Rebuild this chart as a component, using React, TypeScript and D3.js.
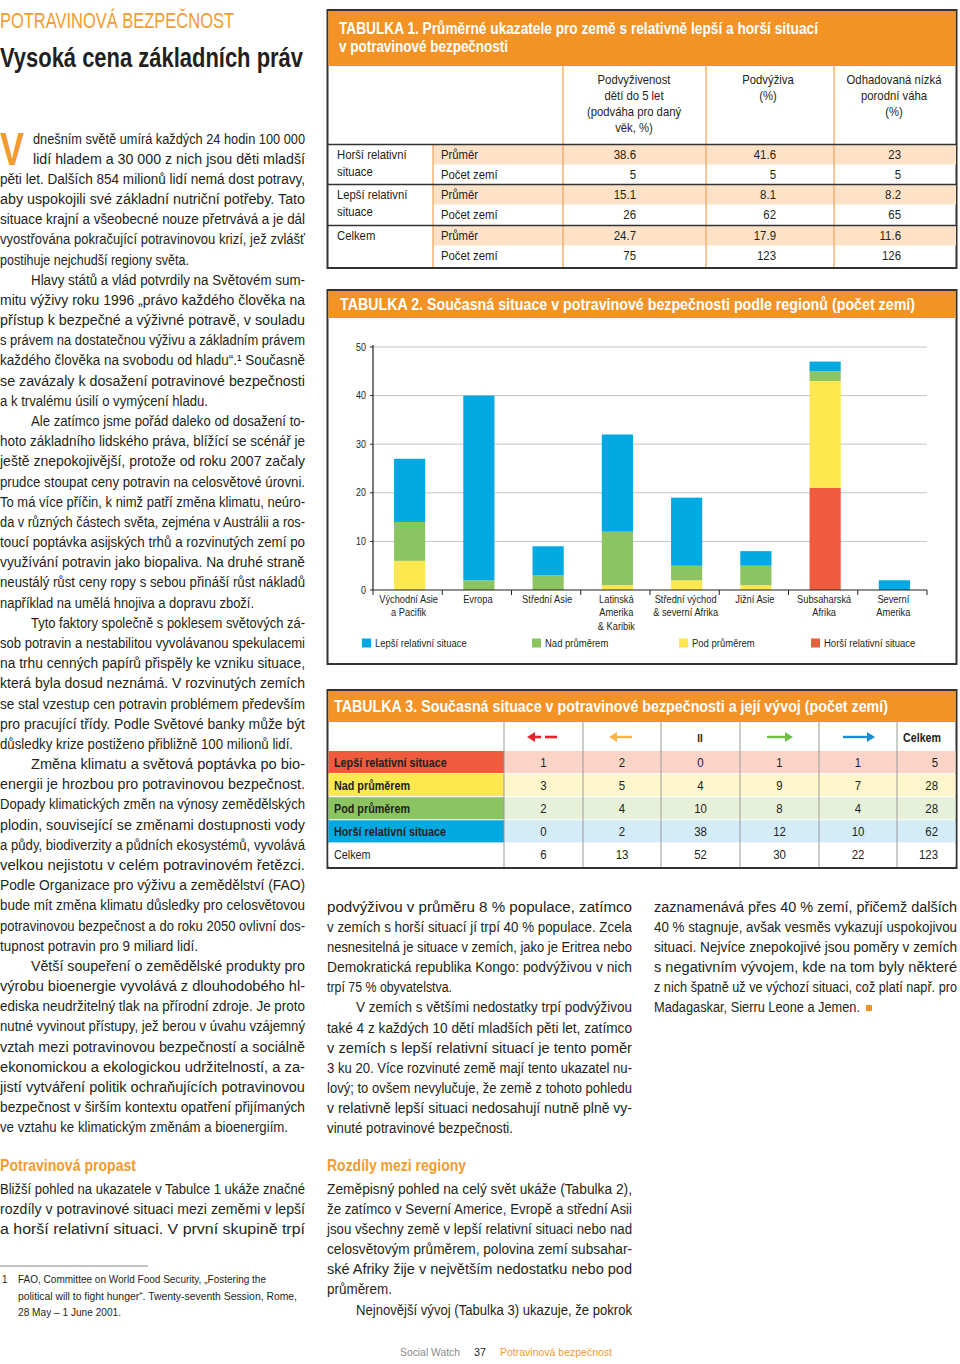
import React from "react";
import * as d3 from "d3";

// ---------- Chart data (Tabulka 2) ----------
const categories = [
  "Východní Asie|a Pacifik",
  "Evropa",
  "Střední Asie",
  "Latinská|Amerika|& Karibik",
  "Střední východ|& severní Afrika",
  "Jižní Asie",
  "Subsaharská|Afrika",
  "Severní|Amerika",
];
const worseSituation = [0, 0, 0, 0, 0, 0, 21, 0];
const belowAverage = [6, 0, 0, 1, 2, 1, 22, 0];
const aboveAverage = [8, 2, 3, 11, 3, 4, 2, 0];
const betterSituation = [13, 38, 6, 20, 14, 3, 2, 2];
const yTicks = [0, 10, 20, 30, 40, 50];
const legendLabels = ["Lepší relativní situace", "Nad průměrem", "Pod průměrem", "Horší relativní situace"];

// ---------- Tabulka 1 ----------
const t1Columns = [
  ["Podvyživenost", "dětí do 5 let", "(podváha pro daný", "věk, %)"],
  ["Podvýživa", "(%)"],
  ["Odhadovaná nízká", "porodní váha", "(%)"],
];
const t1Groups = [["Horší relativní", "situace"], ["Lepší relativní", "situace"], ["Celkem"]];
const t1Avg = [["38.6", "41.6", "23"], ["15.1", "8.1", "8.2"], ["24.7", "17.9", "11.6"]];
const t1Count = [["5", "5", "5"], ["26", "62", "65"], ["75", "123", "126"]];

// ---------- Tabulka 3 ----------
const t3Rows = ["Lepší relativní situace", "Nad průměrem", "Pod průměrem", "Horší relativní situace", "Celkem"];
const t3Values = [
  [1, 2, 0, 1, 1, 5],
  [3, 5, 4, 9, 7, 28],
  [2, 4, 10, 8, 4, 28],
  [0, 2, 38, 12, 10, 62],
  [6, 13, 52, 30, 22, 123],
];

// ---------- Body text ----------
const leftParas = [
  { indent: 0, end: 189, lines: [
    "dnešním světě umírá každých 24 hodin 100 000",
    "lidí hladem a 30 000 z nich jsou děti mladší",
    "pěti let. Dalších 854 milionů lidí nemá dost potravy,",
    "aby uspokojili své základní nutriční potřeby. Tato",
    "situace krajní a všeobecné nouze přetrvává a je dál",
    "vyostřována pokračující potravinovou krizí, jež zvlášť",
    "postihuje nejchudší regiony světa.",
  ]},
  { indent: 31, end: 208, lines: [
    "Hlavy států a vlád potvrdily na Světovém sum-",
    "mitu výživy roku 1996 „právo každého člověka na",
    "přístup k bezpečné a výživné potravě, v souladu",
    "s právem na dostatečnou výživu a základním právem",
    "každého člověka na svobodu od hladu“.¹ Současně",
    "se zavázaly k dosažení potravinové bezpečnosti",
    "a k trvalému úsilí o vymýcení hladu.",
  ]},
  { indent: 31, end: 254, lines: [
    "Ale zatímco jsme pořád daleko od dosažení to-",
    "hoto základního lidského práva, blížící se scénář je",
    "ještě znepokojivější, protože od roku 2007 začaly",
    "prudce stoupat ceny potravin na celosvětové úrovni.",
    "To má více příčin, k nimž patří změna klimatu, neúro-",
    "da v různých částech světa, zejména v Austrálii a ros-",
    "toucí poptávka asijských trhů a rozvinutých zemí po",
    "využívání potravin jako biopaliva. Na druhé straně",
    "neustálý růst ceny ropy s sebou přináší růst nákladů",
    "například na umělá hnojiva a dopravu zboží.",
  ]},
  { indent: 31, end: 293, lines: [
    "Tyto faktory společně s poklesem světových zá-",
    "sob potravin a nestabilitou vyvolávanou spekulacemi",
    "na trhu cenných papírů přispěly ke vzniku situace,",
    "která byla dosud neznámá. V rozvinutých zemích",
    "se stal vzestup cen potravin problémem především",
    "pro pracující třídy. Podle Světové banky může být",
    "důsledky krize postiženo přibližně 100 milionů lidí.",
  ]},
  { indent: 31, end: 198, lines: [
    "Změna klimatu a světová poptávka po bio-",
    "energii je hrozbou pro potravinovou bezpečnost.",
    "Dopady klimatických změn na výnosy zemědělských",
    "plodin, související se změnami dostupnosti vody",
    "a půdy, biodiverzity a půdních ekosystémů, vyvolává",
    "velkou nejistotu v celém potravinovém řetězci.",
    "Podle Organizace pro výživu a zemědělství (FAO)",
    "bude mít změna klimatu důsledky pro celosvětovou",
    "potravinovou bezpečnost a do roku 2050 ovlivní dos-",
    "tupnost potravin pro 9 miliard lidí.",
  ]},
  { indent: 31, end: 288, lines: [
    "Větší soupeření o zemědělské produkty pro",
    "výrobu bioenergie vyvolává z dlouhodobého hl-",
    "ediska neudržitelný tlak na přírodní zdroje. Je proto",
    "nutné vyvinout přístupy, jež berou v úvahu vzájemný",
    "vztah mezi potravinovou bezpečností a sociálně",
    "ekonomickou a ekologickou udržitelností, a za-",
    "jistí vytváření politik ochraňujících potravinovou",
    "bezpečnost v širším kontextu opatření přijímaných",
    "ve vztahu ke klimatickým změnám a bioenergiím.",
  ]},
];
const leftBottom = [
  "Bližší pohled na ukazatele v Tabulce 1 ukáže značné",
  "rozdíly v potravinové situaci mezi zeměmi v lepší",
  "a horší relativní situaci. V první skupině trpí",
];
const footnote = [
  ["FAO, Committee on World Food Security, „Fostering the", 266],
  ["political will to fight hunger“. Twenty-seventh Session, Rome,", 297],
  ["28 May – 1 June 2001.", 121],
];
const centerParas = [
  { indent: 0, end: 452, lines: [
    "podvýživou v průměru 8 % populace, zatímco",
    "v zemích s horší situací jí trpí 40 % populace. Zcela",
    "nesnesitelná je situace v zemích, jako je Eritrea nebo",
    "Demokratická republika Kongo: podvýživou v nich",
    "trpí 75 % obyvatelstva.",
  ]},
  { indent: 29, end: 513, lines: [
    "V zemích s většími nedostatky trpí podvýživou",
    "také 4 z každých 10 dětí mladších pěti let, zatímco",
    "v zemích s lepší relativní situací je tento poměr",
    "3 ku 20. Více rozvinuté země mají tento ukazatel nu-",
    "lový; to ovšem nevylučuje, že země z tohoto pohledu",
    "v relativně lepší situaci nedosahují nutně plně vy-",
    "vinuté potravinové bezpečnosti.",
  ]},
];
const centerBottom = [
  "Zeměpisný pohled na celý svět ukáže (Tabulka 2),",
  "že zatímco v Severní Americe, Evropě a střední Asii",
  "jsou všechny země v lepší relativní situaci nebo nad",
  "celosvětovým průměrem, polovina zemí subsahar-",
  "ské Afriky žije v největším nedostatku nebo pod",
  "průměrem.",
  "Nejnovější vývoj (Tabulka 3) ukazuje, že pokrok",
];
const rightLines = [
  "zaznamenává přes 40 % zemí, přičemž dalších",
  "40 % stagnuje, avšak vesměs vykazují uspokojivou",
  "situaci. Nejvíce znepokojivé jsou poměry v zemích",
  "s negativním vývojem, kde na tom byly některé",
  "z nich špatně už ve výchozí situaci, což platí např. pro",
  "Madagaskar, Sierru Leone a Jemen.",
];

const FONT = "'Liberation Sans', Arial, Helvetica, sans-serif";
const ORANGE = "#f39325";
const ORANGE_TXT = "#f39a30";
const INK = "#231f20";
const BLUE = "#00a9e2";
const GREEN = "#8cc462";
const YELLOW = "#fde84f";
const RED = "#ee5b3d";

const LH = 20.18;

function L({ x0, x1, y, t, size = 14, fill = INK, weight = "normal" }: any) {
  return (
    <text x={x0} y={y} textLength={x1 - x0} lengthAdjust="spacingAndGlyphs"
      fontSize={size} fill={fill} fontWeight={weight}>{t}</text>
  );
}

function CT({ x, y, k = 0.85, anchor = "start", size = 13, fill = INK, weight = "normal", children }: any) {
  return (
    <text transform={`translate(${x},${y}) scale(${k},1)`} textAnchor={anchor}
      fontSize={size} fill={fill} fontWeight={weight}>{children}</text>
  );
}

function Paragraphs({ paras, x0, x1, y0, dropFirst = 0 }: any) {
  const out: any[] = [];
  let i = 0;
  paras.forEach((p: any, pi: number) => {
    p.lines.forEach((t: string, li: number) => {
      const last = li === p.lines.length - 1;
      let sx = x0 + (li === 0 ? p.indent : 0);
      if (pi === 0 && li < 2 && dropFirst) sx = x0 + dropFirst;
      const ex = last ? p.end : x1;
      out.push(<L key={`${pi}-${li}`} x0={sx} x1={ex} y={y0 + i * LH} t={t} />);
      i++;
    });
  });
  return <g>{out}</g>;
}

function Chart() {
  const x = d3.scaleBand<string>().domain(categories).range([373, 927]).paddingInner(0.55).paddingOuter(0.275);
  const y = d3.scaleLinear().domain([0, 50]).range([590, 347]);
  const keys = ["worse", "below", "above", "better"];
  const colors: any = { worse: RED, below: YELLOW, above: GREEN, better: BLUE };
  const rows = categories.map((c, i) => ({
    cat: c, worse: worseSituation[i], below: belowAverage[i], above: aboveAverage[i], better: betterSituation[i],
  }));
  const series = d3.stack<any>().keys(keys)(rows);
  const step = x.step();
  const x0 = x.range()[0];
  const legendX = [362, 532, 679, 811];
  const legendColors = [BLUE, GREEN, YELLOW, RED];
  return (
    <g>
      {yTicks.filter((t) => t > 0).map((t) => (
        <line key={t} x1={373} x2={927} y1={y(t)} y2={y(t)} stroke="#c4c4c4" strokeWidth={1} />
      ))}
      {series.map((s: any) => (
        <g key={s.key} fill={colors[s.key]}>
          {s.map((d: any, i: number) => (
            d[1] - d[0] > 0 ? (
              <rect key={i} x={(x(d.data.cat) as number) + 2} width={x.bandwidth()} y={y(d[1])} height={y(d[0]) - y(d[1])} />
            ) : null
          ))}
        </g>
      ))}
      <line x1={373} x2={373} y1={345} y2={590} stroke="#222" strokeWidth={1.2} />
      <line x1={373} x2={927} y1={590} y2={590} stroke="#222" strokeWidth={1.2} />
      {d3.range(categories.length + 1).map((i) => (
        <line key={i} x1={x0 + i * step} x2={x0 + i * step} y1={590} y2={595} stroke="#222" strokeWidth={1} />
      ))}
      {yTicks.map((t) => (
        <g key={t}>
          <line x1={370} x2={373} y1={y(t)} y2={y(t)} stroke="#222" />
          <CT x={366} y={y(t) + 3.5} anchor="end" size={10.5} k={0.85}>{t}</CT>
        </g>
      ))}
      {categories.map((c) => (
        <g key={c}>
          {c.split("|").map((ln, j) => (
            <CT key={j} x={(x(c) as number) + x.bandwidth() / 2 + 1} y={603 + j * 13.3} anchor="middle" size={10.8} k={0.86}>{ln}</CT>
          ))}
        </g>
      ))}
      {legendLabels.map((lab, i) => (
        <g key={lab}>
          <rect x={legendX[i]} y={638.5} width={9} height={9} fill={legendColors[i]} />
          <CT x={legendX[i] + 13} y={647} size={10.8} k={0.88}>{lab}</CT>
        </g>
      ))}
    </g>
  );
}

function Table1() {
  const colX = [563, 706, 834];
  const colC = [634, 768, 894];
  const valR = [636, 776, 901];
  const groupTop = [145, 185, 226];
  return (
    <g>
      <rect x={327.5} y={10} width={629} height={258} fill="#fff" stroke="#333" strokeWidth={2} />
      <rect x={328.5} y={11} width={627} height={55} fill={ORANGE} />
      <L x0={339} x1={818} y={34} t="TABULKA 1. Průměrné ukazatele pro země s relativně lepší a horší situací" size={16.5} fill="#fff" weight="bold" />
      <L x0={339} x1={508} y={52} t="v potravinové bezpečnosti" size={16.5} fill="#fff" weight="bold" />
      {groupTop.map((g, i) => (
        <rect key={i} x={433} y={g} width={523} height={19.5} fill="#fde2c7" />
      ))}
      {colX.map((cx) => (
        <line key={cx} x1={cx} x2={cx} y1={66} y2={267} stroke="#f4a85c" strokeWidth={1.3} />
      ))}
      <line x1={433} x2={433} y1={144} y2={267} stroke="#f4a85c" strokeWidth={1.3} />
      <line x1={328} x2={956} y1={144.5} y2={144.5} stroke="#333" strokeWidth={1.5} />
      <line x1={328} x2={956} y1={184.5} y2={184.5} stroke="#333" strokeWidth={1.5} />
      <line x1={328} x2={956} y1={225.5} y2={225.5} stroke="#333" strokeWidth={1.5} />
      {t1Columns.map((col, ci) => col.map((ln, li) => (
        <CT key={`${ci}-${li}`} x={colC[ci]} y={83.5 + li * 16.3} anchor="middle" size={13} k={0.87}>{ln}</CT>
      )))}
      {t1Groups.map((g, gi) => g.map((ln, li) => (
        <CT key={`${gi}-${li}`} x={337} y={groupTop[gi] + 14 + li * 17} size={13} k={0.87}>{ln}</CT>
      )))}
      {groupTop.map((g, gi) => (
        <g key={gi}>
          <CT x={441} y={g + 14} size={13} k={0.87}>Průměr</CT>
          <CT x={441} y={g + 33.5} size={13} k={0.87}>Počet zemí</CT>
          {t1Avg[gi].map((v, ci) => (
            <CT key={ci} x={valR[ci]} y={g + 14} anchor="end" size={13} k={0.88}>{v}</CT>
          ))}
          {t1Count[gi].map((v, ci) => (
            <CT key={ci} x={valR[ci]} y={g + 33.5} anchor="end" size={13} k={0.88}>{v}</CT>
          ))}
        </g>
      ))}
    </g>
  );
}

function Table2Frame() {
  return (
    <g>
      <rect x={327.5} y={290} width={629} height={374} fill="#fff" stroke="#333" strokeWidth={2} />
      <rect x={328.5} y={291} width={627} height={27} fill={ORANGE} />
      <L x0={340} x1={915} y={310} t="TABULKA 2. Současná situace v potravinové bezpečnosti podle regionů (počet zemí)" size={16.5} fill="#fff" weight="bold" />
    </g>
  );
}

function Table3() {
  const divs = [504, 583, 661, 740, 819, 897];
  const centers = [543.5, 622, 700.5, 779.5, 858];
  const labelFill = [RED, YELLOW, GREEN, BLUE, "#fff"];
  const tint = ["#fad5c7", "#fef6cb", "#e7f1da", "#d3ecf8", "#fff"];
  const rowTop = 751;
  const rh = 23.1;
  return (
    <g>
      <rect x={327.5} y={690} width={629} height={178} fill="#fff" stroke="#333" strokeWidth={2} />
      <rect x={328.5} y={691} width={627} height={31} fill={ORANGE} />
      <L x0={334} x1={888} y={712} t="TABULKA 3. Současná situace v potravinové bezpečnosti a její vývoj (počet zemí)" size={16.5} fill="#fff" weight="bold" />
      {t3Rows.map((r, i) => (
        <g key={r}>
          <rect x={328.5} y={rowTop + i * rh} width={175.5} height={rh - 1} fill={labelFill[i]} />
          <rect x={504} y={rowTop + i * rh} width={451.5} height={rh - 1} fill={tint[i]} />
        </g>
      ))}
      {divs.map((d) => (
        <line key={d} x1={d} x2={d} y1={722} y2={867} stroke="#9a9a9a" strokeWidth={1} />
      ))}
      <g>
        <line x1={533} x2={541} y1={737} y2={737} stroke="#e4232d" strokeWidth={2.6} />
        <line x1={545} x2={557} y1={737} y2={737} stroke="#e4232d" strokeWidth={2.6} />
        <path d="M527,737 L535,732 L535,742 Z" fill="#e4232d" />
        <line x1={615} x2={632} y1={737} y2={737} stroke="#f7b54a" strokeWidth={2.4} />
        <path d="M609,737 L617,732 L617,742 Z" fill="#f7b54a" />
        <CT x={700} y={741.5} anchor="middle" size={11} weight="bold" k={0.9}>II</CT>
        <line x1={767} x2={786} y1={737} y2={737} stroke="#6ebe4a" strokeWidth={2.4} />
        <path d="M793,737 L785,732 L785,742 Z" fill="#6ebe4a" />
        <line x1={843} x2={868} y1={737} y2={737} stroke="#1a8fd0" strokeWidth={2.4} />
        <path d="M875,737 L867,732 L867,742 Z" fill="#1a8fd0" />
      </g>
      <CT x={941} y={741.5} anchor="end" size={13} weight="bold" k={0.82}>Celkem</CT>
      {t3Rows.map((r, i) => (
        <g key={r}>
          <CT x={334} y={rowTop + i * rh + 15.5} size={13} weight={i < 4 ? "bold" : "normal"} k={0.83}>{r}</CT>
          {t3Values[i].map((v, j) => (
            j < 5 ? (
              <CT key={j} x={centers[j]} y={rowTop + i * rh + 15.5} anchor="middle" size={13} k={0.88}>{v}</CT>
            ) : (
              <CT key={j} x={938} y={rowTop + i * rh + 15.5} anchor="end" size={13} k={0.88}>{v}</CT>
            )
          ))}
        </g>
      ))}
    </g>
  );
}

export default function App() {
  const leftY0 = 143.5;
  const bottomY0 = 1193.5;
  const midY0 = 911.5;
  return (
    <div style={{ position: "absolute", left: 0, top: 0, width: 960, height: 1364, background: "#fff" }}>
      <svg width={960} height={1364} viewBox="0 0 960 1364" style={{ display: "block", fontFamily: FONT }}>
        <rect width={960} height={1364} fill="#fff" />
        <L x0={0} x1={234} y={27.5} t="POTRAVINOVÁ BEZPEČNOST" size={22} fill={ORANGE_TXT} />
        <L x0={0} x1={303} y={67} t="Vysoká cena základních práv" size={28} fill={INK} weight="bold" />
        <L x0={0} x1={24} y={165} t="V" size={47} fill={ORANGE_TXT} weight="bold" />

        <Paragraphs paras={leftParas} x0={0} x1={305} y0={leftY0} dropFirst={33} />

        <L x0={0} x1={136} y={1170.5} t="Potravinová propast" size={16.5} fill={ORANGE_TXT} weight="bold" />
        {leftBottom.map((t, i) => (
          <L key={i} x0={0} x1={305} y={bottomY0 + i * LH} t={t} />
        ))}
        <line x1={0} x2={148} y1={1266} y2={1266} stroke="#888" strokeWidth={1} />
        <CT x={2} y={1283} size={11.5} k={0.85}>1</CT>
        {footnote.map(([t, e], i) => (
          <L key={i} x0={18} x1={e as number} y={1283 + i * 16.5} t={t} size={11.5} />
        ))}

        <Table1 />
        <Table2Frame />
        <Chart />
        <Table3 />

        <Paragraphs paras={centerParas} x0={327} x1={632} y0={midY0} />
        <L x0={327} x1={466} y={1170.5} t="Rozdíly mezi regiony" size={16.5} fill={ORANGE_TXT} weight="bold" />
        {centerBottom.map((t, i) => {
          const last = i === 5;
          const sx = i === 6 ? 356 : 327;
          const ex = last ? 392 : 632;
          return <L key={i} x0={sx} x1={ex} y={bottomY0 + i * LH} t={t} />;
        })}

        {rightLines.map((t, i) => (
          <L key={i} x0={654} x1={i === 5 ? 860 : 957} y={midY0 + i * LH} t={t} />
        ))}
        <rect x={866} y={1005} width={6} height={6} fill={ORANGE} />

        <L x0={400} x1={460} y={1356} t="Social Watch" size={11} fill="#8a8a8a" />
        <L x0={474} x1={486} y={1356} t="37" size={11} fill={INK} />
        <L x0={500} x1={612} y={1356} t="Potravinová bezpečnost" size={11} fill={ORANGE_TXT} />
      </svg>
    </div>
  );
}
